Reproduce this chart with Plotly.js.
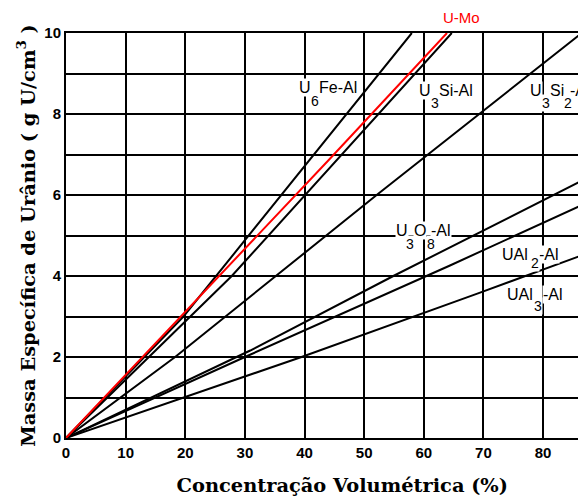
<!DOCTYPE html>
<html>
<head>
<meta charset="utf-8">
<script src="https://cdn.plot.ly/plotly-3.0.1.min.js"></script>
<style>html,body{margin:0;padding:0;background:#fff;}#chart{width:578px;height:500px;}</style>
</head>
<body>
<div id="chart"></div>
<script>
// ---- data ----
const seriesNames = ['U6Fe-Al', 'U-Mo', 'U3Si-Al', 'U3Si2-Al', 'U3O8-Al', 'UAl2-Al', 'UAl3-Al'];
const xU6Fe  = [0, 19.7, 58.0];
const yU6Fe  = [0, 3, 10];
const xUMo   = [0, 26.1, 44.3, 63.9];
const yUMo   = [0, 4.05, 6.9, 10];
const xU3Si  = [0, 27.8, 64.7];
const yU3Si  = [0, 4, 10];
const xU3Si2 = [0, 18.3, 52.1, 86.5];
const yU3Si2 = [0, 2, 6, 10];
const xU3O8  = [0, 30.9, 54.9, 86.5];
const yU3O8  = [0, 2.16, 4, 6.35];
const xUAl2  = [0, 30.0, 64.4, 86.5];
const yUAl2  = [0, 2, 4.26, 5.75];
const xUAl3  = [0, 39.5, 69.1, 86.5];
const yUAl3  = [0, 2, 3.57, 4.51];

const xTickVals = [0, 10, 20, 30, 40, 50, 60, 70, 80];
const xTickText = ['0', '10', '20', '30', '40', '50', '60', '70', '80'];
const yTickVals = [0, 2, 4, 6, 8, 10];
const yTickText = ['0', '2', '4', '6', '8', '10'];
const yMinorGridVals = [1, 3, 5, 7, 9];

const xTitle = 'Concentração Volumétrica (%)';
const yTitle = 'Massa Específica de Urânio ( g U/cm<sup>3</sup> )';

// curve labels, split into their main pieces and their (lowered) subscript digits
const labelPieces = [
  ['U', '6', 'Fe-Al'],
  ['U', '3', 'Si-Al'],
  ['U', '3', 'Si', '2', '-Al'],
  ['U', '3', 'O', '8', '-Al'],
  ['UAl', '2', '-Al'],
  ['UAl', '3', '-Al']
];

// ---- drawing ----
const xs = [xU6Fe, xUMo, xU3Si, xU3Si2, xU3O8, xUAl2, xUAl3];
const ys = [yU6Fe, yUMo, yU3Si, yU3Si2, yU3O8, yUAl2, yUAl3];
const traces = seriesNames.map((n, i) => ({
  type: 'scatter', mode: 'lines', name: n,
  x: xs[i], y: ys[i],
  line: {color: n === 'U-Mo' ? '#ff0000' : '#000000', width: 2},
  hoverinfo: 'skip'
}));
const order = [0, 2, 3, 4, 5, 6, 1];
const data = order.map(i => traces[i]);

// placement of each piece: left edge (pixels, converted to data x), main-line y, subscript y
const X0 = 66, PX = 5.9625;
const px2x = p => (p - X0) / PX;
const pieceLeft = [
  [298, 309.5, 317.5],
  [418, 430, 437.8],
  [529, 540.5, 548.5, 562.7, 569],
  [395, 405, 413, 425.5, 430],
  [501, 529.5, 538],
  [506, 532.5, 541.5]
];
const mainY = [8.66, 8.585, 8.585, 5.116, 4.535, 3.548];
const subY  = [8.33, 8.26, 8.26, 4.80, 4.31, 3.25];

const labelFont = {family: 'Liberation Sans, Arial, sans-serif', size: 16, color: '#000'};
const subFont = {family: 'Liberation Sans, Arial, sans-serif', size: 14, color: '#000'};

const mains = [], subs = [];
labelPieces.forEach((pieces, i) => {
  pieces.forEach((t, j) => {
    const isSub = /^[0-9]$/.test(t);
    (isSub ? subs : mains).push({
      xref: 'x', yref: 'y', x: px2x(pieceLeft[i][j]), y: isSub ? subY[i] : mainY[i],
      text: t, showarrow: false, xanchor: 'left', yanchor: 'middle',
      font: isSub ? subFont : labelFont, bgcolor: '#ffffff', borderpad: 0
    });
  });
});
const annotations = mains.concat(subs);
annotations.push({xref: 'x', yref: 'paper', x: 66.4, y: 1.0388, text: seriesNames[1],
  showarrow: false, xanchor: 'center', yanchor: 'middle',
  font: {family: 'Liberation Sans, Arial, sans-serif', size: 15, color: '#ff0000'}});

const tickFont = {family: 'Liberation Sans, Arial, sans-serif', size: 15, color: '#000', weight: 'bold'};
const titleFont = {family: 'DejaVu Serif, serif', size: 19.4, color: '#000', weight: 'bold'};
// leading padding (kept by a zero-width char) nudges the x title right like in the reference
const xPad = '\u200b' + '\u00a0'.repeat(6);

const layout = {
  width: 578, height: 500,
  margin: {l: 66, r: 0, t: 33, b: 62, pad: 0},
  paper_bgcolor: '#ffffff', plot_bgcolor: '#ffffff',
  showlegend: false,
  xaxis: {
    range: [0, 85.87], tickmode: 'array', tickvals: xTickVals, ticktext: xTickText,
    showgrid: true, gridcolor: '#000', gridwidth: 2,
    showline: true, linecolor: '#000', linewidth: 2, mirror: true,
    zeroline: false, ticks: '', tickfont: tickFont,
    title: {text: xPad + xTitle, font: titleFont, standoff: 18}
  },
  yaxis: {
    range: [0, 10], tickmode: 'array', tickvals: yTickVals, ticktext: yTickText,
    showgrid: true, gridcolor: '#000', gridwidth: 2,
    minor: {tickmode: 'array', tickvals: yMinorGridVals, showgrid: true, gridcolor: '#000', gridwidth: 2, ticks: ''},
    showline: true, linecolor: '#000', linewidth: 2,
    zeroline: false, ticks: '', tickfont: tickFont,
    title: {text: yTitle, font: titleFont, standoff: 4}
  },
  annotations: annotations
};

Plotly.newPlot('chart', data, layout, {displayModeBar: false, staticPlot: true});
</script>
</body>
</html>
